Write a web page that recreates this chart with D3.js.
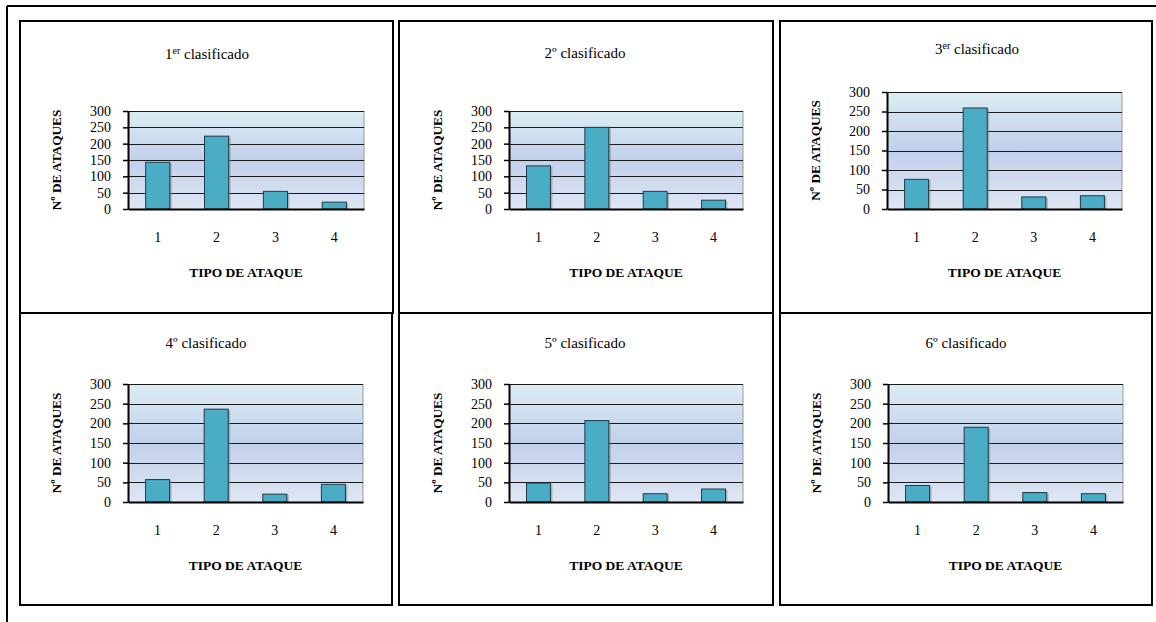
<!DOCTYPE html>
<html>
<head>
<meta charset="utf-8">
<script src="https://cdn.jsdelivr.net/npm/d3@7"></script>
<style>
  html, body { margin: 0; padding: 0; background: #fff; }
  svg { display: block; }
  svg text { font-family: 'Liberation Serif', 'Times New Roman', Times, serif !important; }
</style>
</head>
<body>
<svg id="chart" width="1156" height="622"></svg>
<script>
// Attack types on the x axis and y-axis tick values
const attackTypes = ["1", "2", "3", "4"];
const yTickValues = [0, 50, 100, 150, 200, 250, 300];

// Panel titles: number, ordinal mark, rest of the text
const titleNumbers = ["1", "2", "3", "4", "5", "6"];
const titleOrdinals = ["er", "º", "er", "º", "º", "º"];
const titleRest = " clasificado";

// Number of attacks per attack type, one array per ranked team
const team1 = [143, 223, 54, 21];
const team2 = [132, 250, 54, 27];
const team3 = [76, 259, 31, 34];
const team4 = [57, 236, 20, 45];
const team5 = [48, 207, 21, 33];
const team6 = [42, 190, 24, 21];
const teams = [team1, team2, team3, team4, team5, team6];

const yAxisTitle = "Nº DE ATAQUES";
const xAxisTitle = "TIPO DE ATAQUE";

const FONT = "'Liberation Serif', 'Times New Roman', serif";

// Panel geometry: frame box, plot box and title anchor
const layout = [
  { box: [20, 21, 393, 313],  plot: [128, 111, 364, 209], title: [207, 59] },
  { box: [399, 21, 773, 313], plot: [509, 111, 743, 209], title: [585, 58] },
  { box: [780, 21, 1152, 313], plot: [887, 92, 1122, 209], title: [977, 54] },
  { box: [20, 313, 392, 605], plot: [128, 384, 363, 502], title: [206, 348] },
  { box: [399, 313, 773, 605], plot: [509, 384, 743, 502], title: [585, 348] },
  { box: [780, 313, 1152, 605], plot: [888, 384, 1123, 502], title: [966, 348] }
];

const svg = d3.select("#chart");

// Background gradient of each plot area
const defs = svg.append("defs");
const grad = defs.append("linearGradient")
  .attr("id", "plotBg").attr("x1", 0).attr("y1", 0).attr("x2", 0).attr("y2", 1);
grad.append("stop").attr("offset", "0%").attr("stop-color", "#dbedf4");
grad.append("stop").attr("offset", "50%").attr("stop-color", "#c2d0eb");
grad.append("stop").attr("offset", "100%").attr("stop-color", "#dfe6f4");

// Outer page frame (top and left edges)
svg.append("line").attr("x1", 7).attr("y1", 6).attr("x2", 1156).attr("y2", 6)
  .attr("stroke", "#000").attr("stroke-width", 2);
svg.append("line").attr("x1", 7).attr("y1", 6).attr("x2", 7).attr("y2", 622)
  .attr("stroke", "#000").attr("stroke-width", 2);

teams.forEach((values, i) => {
  const L = layout[i];
  const [bx0, by0, bx1, by1] = L.box;
  const [px0, py0, px1, py1] = L.plot;
  const g = svg.append("g");

  // Panel frame
  g.append("rect")
    .attr("x", bx0).attr("y", by0)
    .attr("width", bx1 - bx0).attr("height", by1 - by0)
    .attr("fill", "#fff").attr("stroke", "#000").attr("stroke-width", 2);

  // Title
  const t = g.append("text")
    .attr("x", L.title[0]).attr("y", L.title[1])
    .attr("text-anchor", "middle")
    .attr("font-family", FONT)
    .attr("font-size", 15).attr("fill", "#000");
  t.append("tspan").text(titleNumbers[i]);
  if (titleOrdinals[i] === "er") {
    t.append("tspan").attr("font-size", 10).attr("dy", -5).text("er");
    t.append("tspan").attr("dy", 5).text(titleRest);
  } else {
    t.append("tspan").text(titleOrdinals[i] + titleRest);
  }

  const x = d3.scaleBand().domain(attackTypes).range([px0, px1])
    .paddingInner(0.59).paddingOuter(0.3);
  const y = d3.scaleLinear().domain([0, 300]).range([py1, py0]);

  // Plot area background
  g.append("rect")
    .attr("x", px0).attr("y", py0)
    .attr("width", px1 - px0).attr("height", py1 - py0)
    .attr("fill", "url(#plotBg)");
  g.append("line")
    .attr("x1", px1).attr("x2", px1).attr("y1", py0).attr("y2", py1)
    .attr("stroke", "#9a9a9a").attr("stroke-width", 1);

  // Horizontal gridlines
  g.append("g").selectAll("line")
    .data(yTickValues.filter(v => v > 0))
    .join("line")
    .attr("x1", px0).attr("x2", px1)
    .attr("y1", d => Math.round(y(d)) + 0.5).attr("y2", d => Math.round(y(d)) + 0.5)
    .attr("stroke", "#1a1a1a").attr("stroke-width", 1);

  // Bar shadows and bars
  g.append("g").selectAll("rect")
    .data(values)
    .join("rect")
    .attr("x", (d, k) => x(attackTypes[k]) + 2)
    .attr("y", d => y(d) + 1)
    .attr("width", x.bandwidth())
    .attr("height", d => py1 - y(d) - 1)
    .attr("fill", "#8a8a8a").attr("opacity", 0.55);
  g.append("g").selectAll("rect")
    .data(values)
    .join("rect")
    .attr("x", (d, k) => x(attackTypes[k]))
    .attr("y", d => y(d))
    .attr("width", x.bandwidth())
    .attr("height", d => py1 - y(d))
    .attr("fill", "#4bacc6")
    .attr("stroke", "#1d3a48").attr("stroke-width", 1);

  // Y axis
  const yAxis = g.append("g")
    .attr("transform", `translate(${px0},0)`)
    .call(d3.axisLeft(y).tickValues(yTickValues).tickSize(5).tickPadding(12).tickSizeOuter(0));
  yAxis.attr("font-family", FONT);
  yAxis.select(".domain").attr("stroke", "#000").attr("stroke-width", 2);
  yAxis.selectAll(".tick line").attr("stroke", "#000").attr("stroke-width", 1.5);
  yAxis.selectAll(".tick text")
    .attr("font-family", FONT)
    .attr("font-size", 14).attr("fill", "#000");

  // X axis
  const xAxis = g.append("g")
    .attr("transform", `translate(0,${py1})`)
    .call(d3.axisBottom(x).tickSize(0).tickPadding(23).tickSizeOuter(0));
  xAxis.attr("font-family", FONT);
  xAxis.select(".domain").attr("stroke", "#000").attr("stroke-width", 2);
  xAxis.selectAll(".tick text")
    .attr("font-family", FONT)
    .attr("font-size", 14).attr("fill", "#000");

  // Axis titles
  g.append("text")
    .attr("x", (px0 + px1) / 2).attr("y", py1 + 68)
    .attr("text-anchor", "middle")
    .attr("font-family", FONT)
    .attr("font-size", 13.5).attr("font-weight", "bold")
    .text(xAxisTitle);
  g.append("text")
    .attr("transform", `translate(${px0 - 67},${(py0 + py1) / 2}) rotate(-90)`)
    .attr("text-anchor", "middle")
    .attr("font-family", FONT)
    .attr("font-size", 13.3).attr("font-weight", "bold")
    .text(yAxisTitle);
});
</script>
</body>
</html>
